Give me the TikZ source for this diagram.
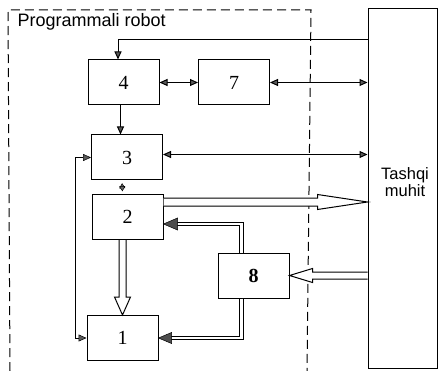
\documentclass[tikz,border=0pt]{standalone}
\usepackage{fontspec}
\setmainfont{Liberation Serif}
\newfontfamily\arialfont{Liberation Sans}
\usetikzlibrary{arrows.meta,calc}

\tikzset{
  blk/.style={draw, line width=1pt, minimum width=71pt, minimum height=45pt,
    inner sep=0pt, font=\fontsize{20}{22}\selectfont},
  arr/.style={line width=1pt, -{Triangle[length=8pt,width=7pt,fill=black!65]}},
  darr/.style={line width=1pt, {Triangle[length=8pt,width=7pt,fill=black!65]}-{Triangle[length=8pt,width=7pt,fill=black!65]}},
  dbl/.style={line width=0.9pt, double, double distance=2.4pt},
  hollow/.style={line width=1pt, fill=white, line join=miter},
  tipfill/.style={fill=black!70, draw=black, line width=0.5pt},
  frame/.style={line width=1pt, dash pattern=on 9pt off 5pt}
}

\begin{document}
\begin{tikzpicture}[x=1pt, y=-1pt]
            \useasboundingbox (0,0) rectangle (438,371);
            % robot frame
            \draw[frame] (10,371) -- (8,10) -- (311,10) -- (307,371);
            \node[anchor=west, font=\arialfont\fontsize{18}{20}\selectfont] (title) at (14,22) {Programmali robot};
            % outer environment
            \node[draw, line width=1pt, minimum width=69pt, minimum height=359pt, inner sep=0pt] (env) at (402.5,188.5) {};
            \node[align=center, font=\arialfont\fontsize{16.5}{17}\selectfont] (envtxt) at (405,182) {Tashqi\\muhit};
            % blocks
            \node[blk] (b4) at (123.5,82.5) {4};
            \node[blk] (b7) at (234,82.5) {7};
            \node[blk] (b3) at (127,157.5) {3};
            \node[blk] (b2) at (127.5,217) {2};
            \node[blk] (b1) at (122.5,338) {1};
            \node[blk, font=\fontsize{20}{22}\selectfont\bfseries] (b8) at (253.5,275.5) {8};
            % thin arrows
            \coordinate (in4) at (118,40);
            \draw[arr] (env.west |- in4) -- (in4) -- (in4 |- b4.north);
            \draw[darr] (b4.east) -- (b7.west);
            \draw[darr] (b7.east) -- (b7.east -| env.west);
            \draw[arr] ([xshift=-3pt]b4.south) -- ([xshift=-3pt]b4.south |- b3.north);
            \draw[darr] ([yshift=3pt]b3.east) -- ([yshift=3pt]b3.east -| env.west);
            \draw[line width=0.5pt, {Triangle[length=5pt,width=6pt,fill=black!60]}-{Triangle[length=5pt,width=6pt,fill=black!60]}]
              ([xshift=-5pt]$(b3.south)!0.2!(b2.north)$) -- ([xshift=-5pt]$(b3.south)!0.8!(b2.north)$);
            \draw[line width=0.5pt, {Triangle[length=8pt,width=7pt,fill=black!65]}-{Triangle[length=8pt,width=7pt,fill=black!65]}]
              (b3.west) -- ++(-16,0) |- (b1.west);
            % hollow arrows
            \draw[hollow] ($(b1.north |- b2.south)+(-3.5,0)$) -- ($(b1.north)+(-3.5,-18)$) -- ($(b1.north)+(-8,-18)$)
              -- (b1.north) -- ($(b1.north)+(8,-18)$) -- ($(b1.north)+(3.5,-18)$) -- ($(b1.north |- b2.south)+(3.5,0)$);
            \coordinate (o2) at ([yshift=-8pt]b2.north east);
            \draw[hollow] ($(o2)+(0,-4)$) -- ($(o2 -| env.west)+(-50,-4)$) -- ($(o2 -| env.west)+(-50,-7.5)$)
              -- (o2 -| env.west) -- ($(o2 -| env.west)+(-50,7.5)$) -- ($(o2 -| env.west)+(-50,4)$) -- ($(o2)+(0,4)$);
            \draw[hollow] ($(b8.east -| env.west)+(0,-3.5)$) -- ($(b8.east)+(23,-3.5)$) -- ($(b8.east)+(23,-7)$)
              -- (b8.east) -- ($(b8.east)+(23,7)$) -- ($(b8.east)+(23,3.5)$) -- ($(b8.east -| env.west)+(0,3.5)$);
            % double lines from 8
            \draw[dbl, shorten >=13pt] ([xshift=-12pt]b8.north) |- ([yshift=-7pt]b2.east);
            \fill[tipfill] ([yshift=-7pt]b2.east) -- ++(14,-6) -- ++(0,12) -- cycle;
            \draw[dbl, shorten >=12pt] ([xshift=-12pt]b8.south) |- (b1.east);
            \fill[tipfill] (b1.east) -- ++(13,-5.5) -- ++(0,11) -- cycle;
        \end{tikzpicture}
\end{document}
